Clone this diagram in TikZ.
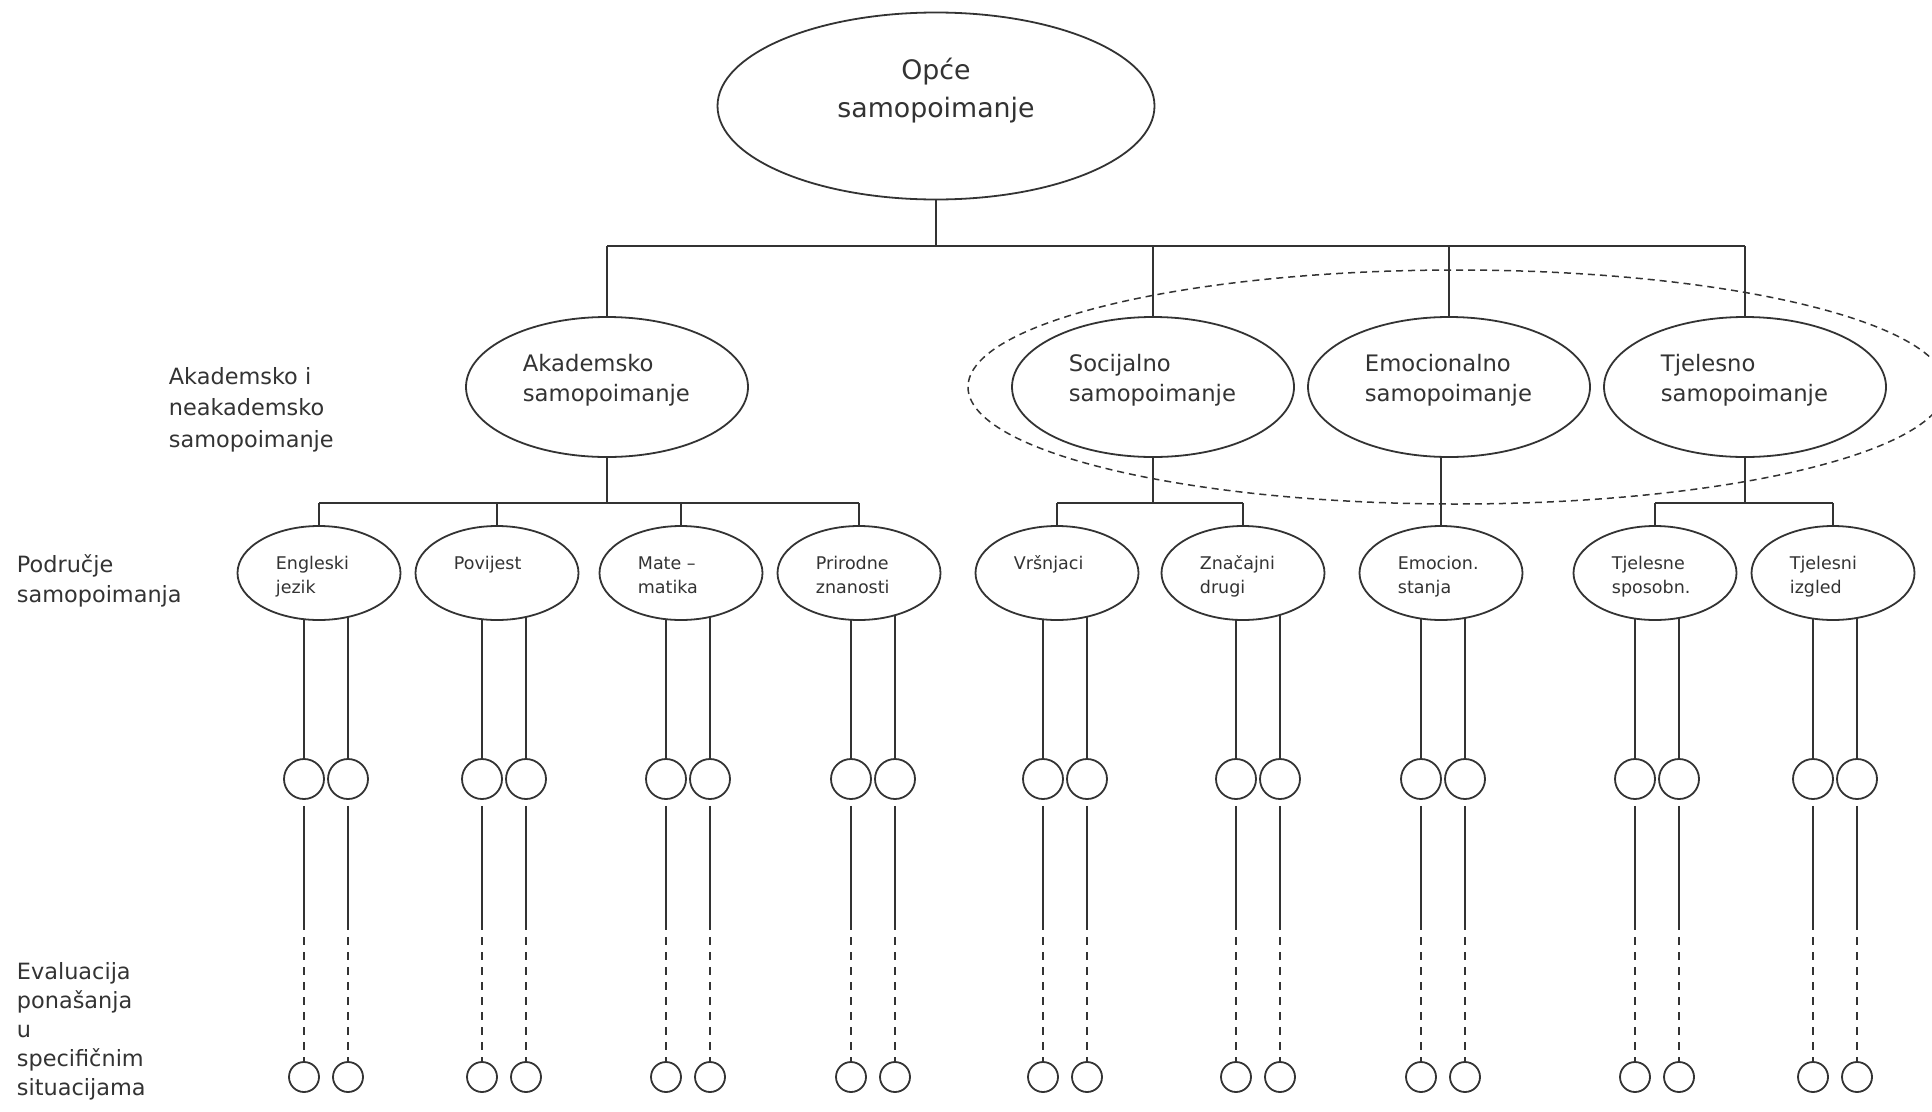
\documentclass[tikz,border=0pt]{standalone}
\usepackage{fontspec}
\setmainfont{DejaVu Sans}
\usetikzlibrary{shapes.geometric,backgrounds,calc}

\definecolor{ink}{RGB}{51,51,51}
\tikzset{every picture/.style={line width=1.8pt}}
\tikzset{
  oval/.style={draw=ink, ellipse, fill=white, inner sep=0pt},
  topoval/.style={oval, minimum width=437, minimum height=187},
  areaoval/.style={oval, minimum width=282, minimum height=140},
  fieldoval/.style={oval, minimum width=163, minimum height=94},
  knot/.style={draw=ink, circle, fill=white, inner sep=0pt, minimum size=40},
  leaf/.style={draw=ink, circle, fill=white, inner sep=0pt, minimum size=30},
  caption/.style={anchor=base west, inner sep=0pt, align=left, text=ink},
  wire/.style={draw=ink, line width=1.8pt},
  hint/.style={draw=ink, line width=1.8pt, dash pattern=on 8pt off 7pt},
}

\begin{document}
\begin{tikzpicture}[x=1pt,y=1pt,yscale=-1,xscale=1]
	\useasboundingbox (0,0) rectangle (1932,1111);

	% Top node
	\node[topoval] (opce) at (936,106) {};
	\node[caption, anchor=base, align=center, font=\fontsize{26.8}{38}\selectfont] (opce-t) at ($(opce.center)+(0,11.5)$) {Opće\\samopoimanje};

	% Second level
	\foreach \n/\x/\t in {aka/607/Akademsko, soc/1153/Socijalno, emo/1449/Emocionalno, tje/1745/Tjelesno}{
		\node[areaoval] (\n) at (\x,387) {};
		\node[caption, font=\fontsize{22.7}{30}\selectfont] (\n-t) at ($(\n.center)+(-85,14.7)$) {\t\\samopoimanje};
	}

	% Third level, with the pairs below
	\coordinate (hub) at (936,246);
	\coordinate (row) at (0,503);
	\coordinate (cut) at (0,922);
	\foreach \n/\x/\a/\b/\t in {eng/319/304/20/{Engleski\\jezik}, pov/497/482/-4/{Povijest}, mat/681/666/20/{Mate –\\matika}, pri/859/851/20/{Prirodne\\znanosti}, vrs/1057/1043/-4/{Vršnjaci}, zna/1243/1236/20/{Značajni\\drugi}, ems/1441/1421/20/{Emocion.\\stanja}, tjs/1655/1635/20/{Tjelesne\\sposobn.}, tji/1833/1813/20/{Tjelesni\\izgled}}{
		\node[fieldoval] (\n) at (\x,573) {};
		\node[caption, font=\fontsize{17.5}{24}\selectfont] (\n-t) at ($(\n.center)+(-44,\b)$) {\t};
		\foreach \k/\d in {1/0, 2/44}{
			\node[knot] (\n\k) at (\a+\d,779) {};
			\node[leaf] (\n\k-e) at (\a+\d,1077) {};
			\begin{scope}[on background layer]
				\draw[wire] (\n\k.center) -- (\n\k.center |- \n.center);
			\end{scope}
			\draw[wire] ($(\n\k.south)+(0,6)$) -- (\n\k |- cut);
			\draw[hint] (\n\k |- cut) -- (\n\k-e.north);
		}
	}

	% Connections
	\begin{scope}[on background layer]
		\draw[wire] (opce.center) -- (opce.center |- hub);
		\draw[wire] (aka.center |- hub) -- (tje.center |- hub);
		\foreach \n in {aka,soc,emo,tje}
			\draw[wire] (\n.center |- hub) -- (\n.center);
		% academic
		\draw[wire] (aka.center) -- (aka.center |- row);
		\draw[wire] (eng.center |- row) -- (pri.center |- row);
		% social
		\draw[wire] (soc.center) -- (soc.center |- row);
		\draw[wire] (vrs.center |- row) -- (zna.center |- row);
		% physical
		\draw[wire] (tje.center) -- (tje.center |- row);
		\draw[wire] (tjs.center |- row) -- (tji.center |- row);
		\foreach \n in {eng,pov,mat,pri,vrs,zna,tjs,tji}
			\draw[wire] (\n.center |- row) -- (\n.center);
		% emotional
		\draw[wire] (ems.center) -- (ems.center |- emo.center);
	\end{scope}

	% Non-academic group
	\node[draw=ink, ellipse, line width=1.5pt, dash pattern=on 7pt off 5pt, inner sep=0pt, minimum width=978, minimum height=234] (grp) at (1457,387) {};

	% Level labels
	\node[caption, font=\fontsize{22.4}{31.5}\selectfont] (lvl2) at (168,447) {Akademsko i\\neakademsko\\samopoimanje};
	\node[caption, font=\fontsize{22.4}{30}\selectfont] (lvl3) at (16,602) {Područje\\samopoimanja};
	\node[caption, font=\fontsize{22.4}{28.8}\selectfont] (lvl4) at (16,1095) {Evaluacija\\ponašanja\\u\\specifičnim\\situacijama};

\end{tikzpicture}
\end{document}
